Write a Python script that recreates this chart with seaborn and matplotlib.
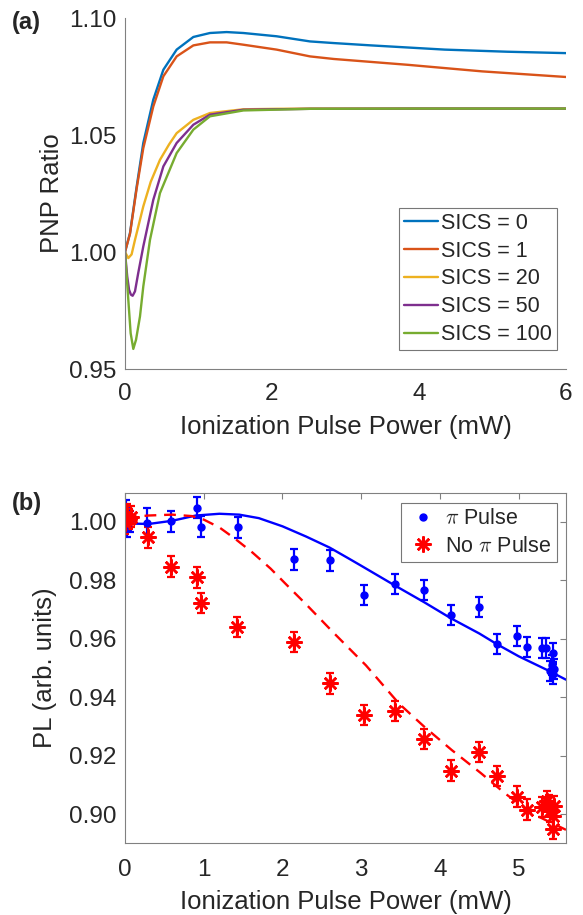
import matplotlib
matplotlib.use('Agg')
import matplotlib.pyplot as plt
import seaborn as sns
from matplotlib.lines import Line2D

# ---- panel (a): PNP ratio vs ionization power ----
sics_labels = ['SICS = 0', 'SICS = 1', 'SICS = 20', 'SICS = 50', 'SICS = 100']
sics_colors = ['#0072BD', '#D95319', '#EDB120', '#7E2F8E', '#77AC30']

x_s0 = [0, 0.068, 0.159, 0.249, 0.385, 0.522, 0.703, 0.930, 1.156, 1.383, 1.610, 2.063, 2.517, 2.84, 3.35, 4.35, 5.2, 6.0]
y_s0 = [1.0000, 1.0081, 1.0280, 1.0466, 1.0651, 1.0779, 1.0865, 1.0919, 1.0936, 1.0940, 1.0936, 1.0922, 1.0900, 1.0893, 1.0883, 1.0865, 1.0856, 1.0850]

x_s1 = [0, 0.068, 0.159, 0.249, 0.385, 0.522, 0.703, 0.930, 1.156, 1.383, 1.610, 2.063, 2.517, 2.84, 3.85, 4.86, 6.0]
y_s1 = [1.0000, 1.0078, 1.0272, 1.0444, 1.0622, 1.0751, 1.0836, 1.0883, 1.0896, 1.0896, 1.0886, 1.0865, 1.0836, 1.0825, 1.0800, 1.0772, 1.0748]

x_s20 = [0, 0.045, 0.09, 0.136, 0.19, 0.249, 0.35, 0.476, 0.60, 0.703, 0.930, 1.156, 1.61, 2.06, 2.517, 4.0, 6.0]
y_s20 = [1.0000, 0.9974, 0.9990, 1.0052, 1.0120, 1.0195, 1.0300, 1.0394, 1.0460, 1.0508, 1.0565, 1.0594, 1.0610, 1.0612, 1.0613, 1.0613, 1.0613]

x_s50 = [0, 0.03, 0.055, 0.08, 0.104, 0.136, 0.18, 0.249, 0.385, 0.522, 0.703, 0.930, 1.156, 1.61, 2.517, 4.0, 6.0]
y_s50 = [1.0000, 0.9896, 0.9839, 0.9818, 0.9813, 0.9832, 0.9910, 1.0024, 1.0223, 1.0366, 1.0466, 1.0544, 1.0587, 1.0608, 1.0612, 1.0613, 1.0613]

x_s100 = [0, 0.045, 0.077, 0.113, 0.15, 0.204, 0.249, 0.340, 0.476, 0.703, 0.930, 1.156, 1.61, 2.517, 4.0, 6.0]
y_s100 = [1.0000, 0.9796, 0.9653, 0.9586, 0.9625, 0.9725, 0.9853, 1.0052, 1.0252, 1.0423, 1.0523, 1.0580, 1.0605, 1.0612, 1.0613, 1.0613]

# ---- panel (b): PL vs ionization power ----
pi_x = [0.01, 0.02, 0.04, 0.06, 0.28, 0.59, 0.92, 0.97, 1.43, 2.14, 2.60, 3.03, 3.43, 3.80, 4.14, 4.49, 4.72, 4.98, 5.10, 5.30, 5.34, 5.44, 5.40, 5.42, 5.44, 5.45]
pi_y = [1.0035, 0.9990, 1.0010, 1.0002, 0.9998, 1.0003, 1.0049, 0.9983, 0.9981, 0.9873, 0.9869, 0.9750, 0.9788, 0.9768, 0.9682, 0.9708, 0.9583, 0.9611, 0.9572, 0.9569, 0.9569, 0.9553, 0.9490, 0.9510, 0.9480, 0.9498]
pi_err = [0.004, 0.004, 0.004, 0.0035, 0.005, 0.0036, 0.0036, 0.0036, 0.0036, 0.0036, 0.0036, 0.0034, 0.0034, 0.0034, 0.0034, 0.0034, 0.0034, 0.0034, 0.0034, 0.0034, 0.0034, 0.0034, 0.0034, 0.0034, 0.0034, 0.0034]

nopi_x = [0.00, 0.02, 0.05, 0.08, 0.29, 0.585, 0.92, 0.97, 1.42, 2.14, 2.60, 3.03, 3.43, 3.80, 4.14, 4.49, 4.72, 4.98, 5.10, 5.30, 5.36, 5.40, 5.43, 5.45, 5.44, 5.38]
nopi_y = [0.9995, 1.0025, 1.0010, 1.0018, 0.9947, 0.9847, 0.9810, 0.9722, 0.9640, 0.9589, 0.9447, 0.9339, 0.9353, 0.9257, 0.9149, 0.9213, 0.9131, 0.9060, 0.9015, 0.9024, 0.9045, 0.9009, 0.8992, 0.9026, 0.8948, 0.9030]
nopi_err = [0.0035] * 26

fit_pi_x = [0, 0.3, 0.6, 0.9, 1.2, 1.45, 1.7, 2.0, 2.3, 2.6, 2.84, 3.0, 3.43, 3.8, 4.14, 4.5, 4.72, 5.0, 5.37, 5.6]
fit_pi_y = [0.9995, 0.9993, 1.0004, 1.0022, 1.0028, 1.0025, 1.0013, 0.9985, 0.9950, 0.9912, 0.9875, 0.9850, 0.9782, 0.9725, 0.9670, 0.9618, 0.9582, 0.9540, 0.9492, 0.9460]

fit_nopi_x = [0, 0.3, 0.6, 0.85, 1.0, 1.2, 1.4, 1.62, 1.85, 2.04, 2.3, 2.64, 3.06, 3.48, 3.8, 4.15, 4.52, 4.82, 5.16, 5.6]
fit_nopi_y = [1.0015, 1.0022, 1.0025, 1.0020, 1.0008, 0.9981, 0.9942, 0.9895, 0.9840, 0.9788, 0.9718, 0.9623, 0.9509, 0.9378, 0.9299, 0.9219, 0.9140, 0.9072, 0.9003, 0.8946]

sns.set_theme(style='white')
plt.rcParams['font.family'] = ['Liberation Sans', 'DejaVu Sans']
plt.rcParams['mathtext.fontset'] = 'cm'

axcol = '#808080'
txtcol = '#262626'
tick_fs = 17.5
label_fs = 18.5
leg_fs = 15.5

fig = plt.figure(figsize=(5.83, 9.15), dpi=100)
ax1 = fig.add_axes([0.2144, 0.5967, 0.7564, 0.3836])
ax2 = fig.add_axes([0.2144, 0.0784, 0.7564, 0.3831])

# panel (a)
curves = [(x_s0, y_s0), (x_s1, y_s1), (x_s20, y_s20), (x_s50, y_s50), (x_s100, y_s100)]
for (xs, ys), lab, col in zip(curves, sics_labels, sics_colors):
    sns.lineplot(x=xs, y=ys, ax=ax1, color=col, lw=1.7, label=lab, estimator=None, sort=False)

ax1.set_xlim(0, 6)
ax1.set_ylim(0.95, 1.10)
ax1.set_xticks([0, 2, 4, 6])
ax1.set_yticks([0.95, 1.00, 1.05, 1.10])
ax1.set_yticklabels(['0.95', '1.00', '1.05', '1.10'])
for s in ['top', 'right']:
    ax1.spines[s].set_visible(False)
for s in ['left', 'bottom']:
    ax1.spines[s].set_color(axcol)
    ax1.spines[s].set_linewidth(0.8)
ax1.tick_params(direction='in', length=4, width=0.8, color=axcol, labelsize=tick_fs, labelcolor=txtcol)
ax1.tick_params(axis='x', pad=10)
ax1.tick_params(axis='y', pad=6)
ax1.set_xlabel('Ionization Pulse Power (mW)', fontsize=label_fs, color=txtcol, labelpad=7)
ax1.set_ylabel('PNP Ratio', fontsize=label_fs, color=txtcol, labelpad=4)
leg1 = ax1.legend(loc='lower right', bbox_to_anchor=(0.9554, 0.6175), bbox_transform=fig.transFigure,
                  borderaxespad=0, fontsize=leg_fs, frameon=True, fancybox=False, handlelength=1.6,
                  handletextpad=0.15, labelspacing=0.32, borderpad=0.22)
leg1.get_frame().set_edgecolor('#555555')
leg1.get_frame().set_linewidth(0.8)
for t in leg1.get_texts():
    t.set_color(txtcol)

# panel (b)
ax2.errorbar(pi_x, pi_y, yerr=pi_err, fmt='none', ecolor='blue', elinewidth=1.6, capsize=3, capthick=1.6)
ax2.errorbar(nopi_x, nopi_y, yerr=nopi_err, fmt='none', ecolor='red', elinewidth=1.6, capsize=3, capthick=1.6)
sns.lineplot(x=fit_pi_x, y=fit_pi_y, ax=ax2, color='blue', lw=1.7, estimator=None, sort=False)
sns.lineplot(x=fit_nopi_x, y=fit_nopi_y, ax=ax2, color='red', lw=1.7, estimator=None, sort=False,
             linestyle=(0, (5, 3.3)))
ax2.plot(pi_x, pi_y, ls='none', marker='o', ms=5, color='blue')
ax2.plot(nopi_x, nopi_y, ls='none', marker=(8, 2, 0), ms=11.5, mew=1.8, color='red')

ax2.set_xlim(0, 5.6)
ax2.set_ylim(0.89, 1.01)
ax2.set_xticks([0, 1, 2, 3, 4, 5])
ax2.set_yticks([0.90, 0.92, 0.94, 0.96, 0.98, 1.00])
ax2.set_yticklabels(['0.90', '0.92', '0.94', '0.96', '0.98', '1.00'])
for s in ax2.spines.values():
    s.set_color(axcol)
    s.set_linewidth(0.8)
ax2.tick_params(direction='in', length=4, width=0.8, color=axcol, labelsize=tick_fs, labelcolor=txtcol,
                top=True, right=True)
ax2.tick_params(axis='x', pad=11)
ax2.tick_params(axis='y', pad=6)
ax2.set_xlabel('Ionization Pulse Power (mW)', fontsize=label_fs, color=txtcol, labelpad=7)
ax2.set_ylabel('PL (arb. units)', fontsize=label_fs, color=txtcol, labelpad=9)

handles = [Line2D([], [], ls='none', marker='o', ms=5, color='blue'),
           Line2D([], [], ls='none', marker=(8, 2, 0), ms=11.5, mew=1.8, color='red')]
leg2 = ax2.legend(handles, ['$\\pi$ Pulse', 'No $\\pi$ Pulse'], loc='upper right',
                  bbox_to_anchor=(0.9554, 0.4503), bbox_transform=fig.transFigure, borderaxespad=0,
                  fontsize=leg_fs, frameon=True, fancybox=False, handlelength=1.5, handletextpad=0.3,
                  labelspacing=0.3, borderpad=0.25)
leg2.get_frame().set_edgecolor('#555555')
leg2.get_frame().set_linewidth(0.8)
for t in leg2.get_texts():
    t.set_color(txtcol)

fig.text(0.021, 0.975, '(a)', fontsize=17, fontweight='bold', color=txtcol, va='center')
fig.text(0.021, 0.450, '(b)', fontsize=17, fontweight='bold', color=txtcol, va='center')

fig.savefig('out.png', dpi=100)
